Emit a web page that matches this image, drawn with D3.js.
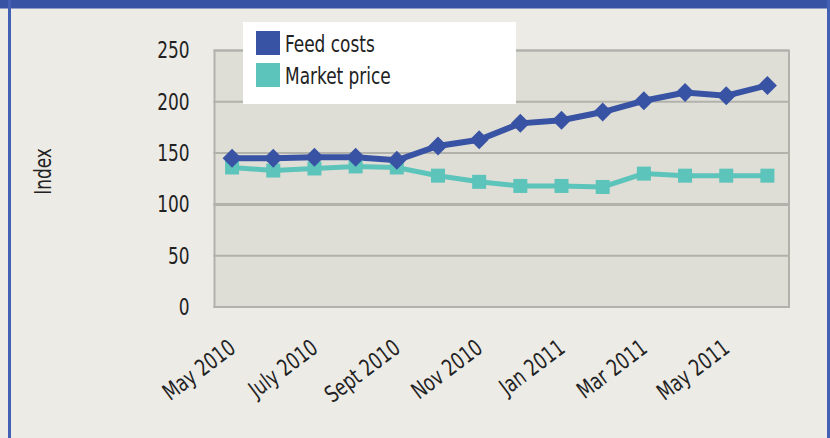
<!DOCTYPE html>
<html>
<head>
<meta charset="utf-8">
<script src="https://cdn.jsdelivr.net/npm/d3@7"></script>
<style>
  body { margin: 0; background: #ecebe6; }
  svg { display: block; }
  text { font-family: "DejaVu Sans Condensed", "DejaVu Sans", sans-serif; fill: #222; }
</style>
</head>
<body>
<svg id="chart" width="830" height="438"></svg>
<script>
(function(){

    var months = ["May 2010", "June 2010", "July 2010", "Aug 2010", "Sept 2010", "Oct 2010", "Nov 2010",
                  "Dec 2010", "Jan 2011", "Feb 2011", "Mar 2011", "Apr 2011", "May 2011", "June 2011"];
    var tickMonths = ["May 2010", "July 2010", "Sept 2010", "Nov 2010", "Jan 2011", "Mar 2011", "May 2011"];
    var feedCosts = [145, 145, 146, 146, 143, 157, 163, 179, 182, 190, 201, 209, 206, 216];
    var marketPrice = [136, 133, 135, 137, 136, 128, 122, 118, 118, 117, 130, 128, 128, 128];
    var yTicks = [0, 50, 100, 150, 200, 250];
    var seriesNames = ["Feed costs", "Market price"];

    var svg = d3.select("#chart");

    var W = +svg.attr("width"), H = +svg.attr("height");
    var margin = {top: 50.5, right: 41, bottom: 131, left: 214.5},
        width = W - margin.left - margin.right,
        height = H - margin.top - margin.bottom;

    var blue = "#3953a4", teal = "#5cc4ba";
    var narrow = " scale(0.82,1)";   // the original type is narrower than DejaVu Condensed

    // frame
    svg.append("rect").attr("width", W).attr("height", H).attr("fill", "#ecebe6");
    svg.append("rect").attr("x", 0).attr("y", 0).attr("width", W).attr("height", 8.5).attr("fill", "#3953a4");
    svg.append("rect").attr("x", 8).attr("y", 0).attr("width", 3).attr("height", H).attr("fill", "#4460b4");
    svg.append("rect").attr("x", 827).attr("y", 0).attr("width", 3).attr("height", H).attr("fill", "#4460b4");

    var x = d3.scalePoint()
        .domain(months)
        .range([margin.left - 3, margin.left + width - 1])
        .padding(0.5);

    var y = d3.scaleLinear()
        .domain([0, 250])
        .range([margin.top + height, margin.top]);

    // plot area
    svg.append("rect")
        .attr("x", margin.left).attr("y", margin.top)
        .attr("width", width).attr("height", height)
        .attr("fill", "#dfded6")
        .attr("stroke", "#b2b2ad").attr("stroke-width", 2);

    svg.append("g").selectAll("line")
        .data(yTicks)
        .enter().append("line")
        .attr("x1", margin.left - 1).attr("x2", margin.left + width)
        .attr("y1", function(d) { return y(d); })
        .attr("y2", function(d) { return y(d); })
        .attr("stroke", "#b2b2ad")
        .attr("stroke-width", function(d) { return d === 100 ? 3 : 2; });

    // y axis labels
    svg.append("g")
        .attr("transform", "translate(" + (margin.left - 25) + ",0)")
        .call(d3.axisLeft(y).tickValues(yTicks).tickSize(0).tickPadding(0))
        .call(function(g) { g.select(".domain").remove(); })
        .selectAll("text")
        .attr("font-size", 23)
        .attr("font-family", null)
        .attr("fill", "#222")
        .attr("transform", narrow.trim());

    svg.append("text")
        .attr("transform", "translate(51," + (margin.top + 121) + ") rotate(-90)" + narrow)
        .attr("text-anchor", "middle")
        .attr("font-size", 23)
        .text("Index");

    // x axis labels
    svg.append("g").selectAll("text")
        .data(tickMonths)
        .enter().append("text")
        .attr("transform", function(d) { return "translate(" + (x(d) + 5) + "," + 351 + ") rotate(-37)" + narrow; })
        .attr("text-anchor", "end")
        .attr("font-size", 23)
        .text(function(d) { return d; });

    // lines
    var line = d3.line()
        .x(function(d, i) { return x(months[i]); })
        .y(function(d) { return y(d); });

    svg.append("path")
        .datum(marketPrice)
        .attr("fill", "none")
        .attr("stroke", teal)
        .attr("stroke-width", 5)
        .attr("d", line);

    svg.append("path")
        .datum(feedCosts)
        .attr("fill", "none")
        .attr("stroke", blue)
        .attr("stroke-width", 6)
        .attr("d", line);

    svg.append("g").selectAll("rect")
        .data(marketPrice)
        .enter().append("rect")
        .attr("x", function(d, i) { return x(months[i]) - 7; })
        .attr("y", function(d) { return y(d) - 7; })
        .attr("width", 14).attr("height", 14)
        .attr("fill", teal);

    var diamond = d3.symbol().type(d3.symbolDiamond2).size(230);

    svg.append("g").selectAll("path")
        .data(feedCosts)
        .enter().append("path")
        .attr("transform", function(d, i) { return "translate(" + x(months[i]) + "," + y(d) + ")"; })
        .attr("d", diamond)
        .attr("fill", blue);

    // legend
    var legend = svg.append("g");
    legend.append("rect")
        .attr("x", 243).attr("y", 22)
        .attr("width", 273).attr("height", 82)
        .attr("fill", "#fff");

    var item = legend.selectAll(".item")
        .data(seriesNames)
        .enter().append("g")
        .attr("class", "item")
        .attr("transform", function(d, i) { return "translate(256," + (31 + i * 32) + ")"; });

    item.append("rect")
        .attr("width", 24).attr("height", 24)
        .attr("fill", function(d, i) { return i === 0 ? blue : teal; });

    item.append("text")
        .attr("transform", "translate(29,21)" + narrow)
        .attr("font-size", 23)
        .text(function(d) { return d; });

})();
</script>
</body>
</html>
